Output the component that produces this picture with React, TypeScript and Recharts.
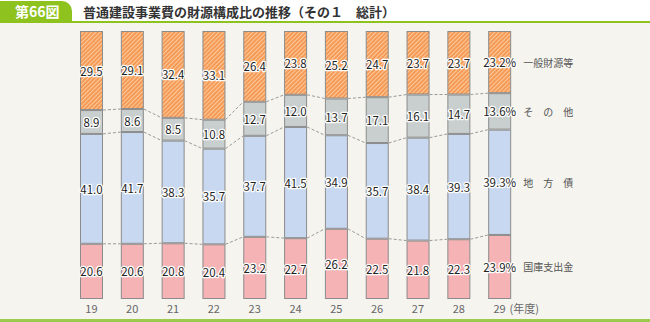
import React from 'react';
import { BarChart, Bar, XAxis, YAxis, LabelList } from 'recharts';

// 年度
const years = ['19', '20', '21', '22', '23', '24', '25', '26', '27', '28', '29'];
// 構成比 (%)
const kokko = [20.6, 20.6, 20.8, 20.4, 23.2, 22.7, 26.2, 22.5, 21.8, 22.3, 23.9];
const chihousai = [41.0, 41.7, 38.3, 35.7, 37.7, 41.5, 34.9, 35.7, 38.4, 39.3, 39.3];
const sonota = [8.9, 8.6, 8.5, 10.8, 12.7, 12.0, 13.7, 17.1, 16.1, 14.7, 13.6];
const ippan = [29.5, 29.1, 32.4, 33.1, 26.4, 23.8, 25.2, 24.7, 23.7, 23.7, 23.2];

const series = [
  { key: 'kokko', name: '国庫支出金', values: kokko, fill: '#f5b3b5' },
  { key: 'chihousai', name: '地　方　債', values: chihousai, fill: '#c7d8f0' },
  { key: 'sonota', name: 'そ　の　他', values: sonota, fill: '#c9cfcf' },
  { key: 'ippan', name: '一般財源等', values: ippan, fill: 'url(#hatch)' },
];

const rows = years.map((year, i) => ({
  year,
  kokko: kokko[i],
  chihousai: chihousai[i],
  sonota: sonota[i],
  ippan: ippan[i],
}));

const W = 650;
const H = 322;
const M = { top: 31, right: 130, bottom: 3, left: 71 };
const BAND = (W - M.left - M.right) / years.length;
const FONT = "'Noto Sans CJK JP', 'Noto Sans', sans-serif";

// 下から数えた累積値
const cumTop = (si: number, i: number) => {
  let s = 0;
  for (let k = 0; k <= si; k++) s += series[k].values[i];
  return s;
};

const makeShape = (si: number) => (props: any) => {
  const { x, y, width, height, index } = props;
  const v = series[si].values[index];
  const ppu = height / v;
  let line = null;
  if (si < series.length - 1 && index < years.length - 1) {
    const yNext = y + (cumTop(si, index) - cumTop(si, index + 1)) * ppu;
    line = (
      <line x1={x + width} y1={y} x2={x + BAND} y2={yNext} stroke="#9a9a9a" strokeWidth={1} strokeDasharray="3 2" />
    );
  }
  return (
    <g>
      <rect x={x + 0.5} y={y + 0.5} width={width - 1} height={height - 1} fill={series[si].fill} stroke="#8c8c8c" strokeWidth={1} />
      {line}
    </g>
  );
};

const makeValueLabel = (si: number) => (props: any) => {
  const { x, y, width, height, index } = props;
  const v = series[si].values[index];
  const last = index === years.length - 1;
  return (
    <text
      x={x + width / 2}
      y={y + height / 2}
      textAnchor="middle"
      dominantBaseline="central"
      fontSize={11.5}
      fontFamily={FONT}
      fill="#222"
      stroke="#fff"
      strokeWidth={2.5}
      strokeLinejoin="round"
      paintOrder="stroke"
    >
      {v.toFixed(1) + (last ? '%' : '')}
    </text>
  );
};

const makeNameLabel = (si: number) => (props: any) => {
  const { x, y, width, height, index } = props;
  if (index !== years.length - 1) return null;
  return (
    <text x={x + width + 12} y={y + height / 2} dominantBaseline="central" fontSize={10} fontFamily={FONT} fill="#555">
      {series[si].name}
    </text>
  );
};

const YearTick = (props: any) => {
  const { x, y, payload, index } = props;
  const last = index === years.length - 1;
  return (
    <g>
      <text x={x} y={y + 12} textAnchor="middle" fontSize={11} fontFamily={FONT} fill="#666">
        {payload.value}
      </text>
      {last && (
        <text x={x + 10} y={y + 12} textAnchor="start" fontSize={11} fontFamily={FONT} fill="#666">
          (年度)
        </text>
      )}
    </g>
  );
};

const App: React.FC = () => {
  return (
    <div style={{ position: 'relative', width: W, height: H, background: '#f5f4ef', fontFamily: FONT, overflow: 'hidden' }}>
      <style>{'body{margin:0}'}</style>
      <svg width={0} height={0} style={{ position: 'absolute' }}>
        <defs>
          <pattern id="hatch" patternUnits="userSpaceOnUse" width={3} height={3} patternTransform="rotate(45)">
            <rect width={3} height={3} fill="#f4954f" />
            <rect width={1.2} height={3} fill="#fdc99a" />
          </pattern>
        </defs>
      </svg>

      <div style={{ position: 'absolute', left: 0, top: 0, width: W, height: 21, background: '#fff', borderBottom: '2px solid #8dc21f', zIndex: 2 }}>
        <div style={{ position: 'absolute', left: 0, top: 1, width: 72, height: 21, background: '#8dc21f', borderTopRightRadius: 10, color: '#fff', fontWeight: 'bold', fontSize: 14, lineHeight: '21px', paddingLeft: 15, boxSizing: 'border-box' }}>
          第66図
        </div>
        <div style={{ position: 'absolute', left: 83, top: 0, height: 21, lineHeight: '24px', fontSize: 13, fontWeight: 'bold', color: '#333' }}>
          普通建設事業費の財源構成比の推移（その１　総計）
        </div>
      </div>

      <div style={{ position: 'absolute', left: 0, top: 0 }}>
        <BarChart width={W} height={H} data={rows} margin={M} barSize={23}>
          <XAxis dataKey="year" axisLine={false} tickLine={false} tickSize={0} height={20} interval={0} tick={<YearTick />} />
          <YAxis hide domain={[0, 100]} />
          {series.map((s, si) => (
            <Bar key={s.key} dataKey={s.key} stackId="a" fill={s.fill} shape={makeShape(si)} isAnimationActive={false}>
              <LabelList dataKey={s.key} content={makeValueLabel(si)} />
              <LabelList dataKey={s.key} content={makeNameLabel(si)} />
            </Bar>
          ))}
        </BarChart>
      </div>

      <div style={{ position: 'absolute', left: 0, top: 319, width: W, height: 3, background: '#9dca4c' }} />
    </div>
  );
};

export default App;
